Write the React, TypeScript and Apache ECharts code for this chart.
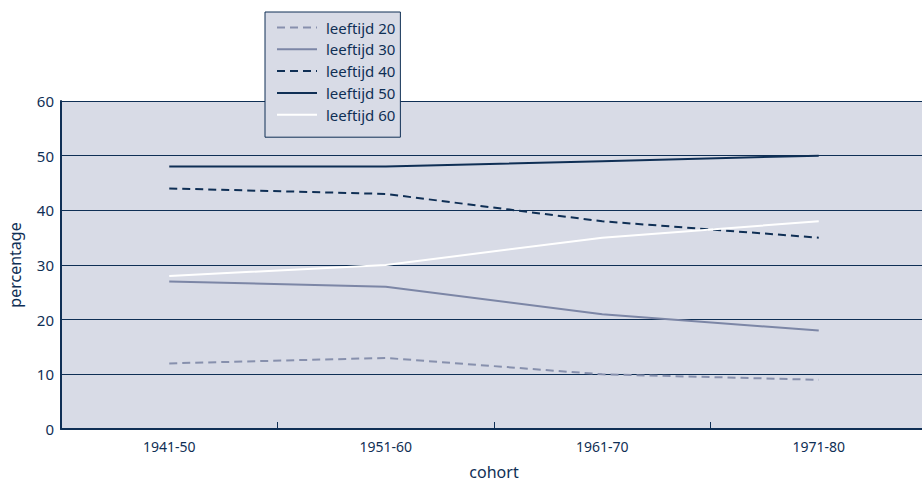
import React, { useEffect, useRef } from "react";
import * as echarts from "echarts";

const categories = ["1941-50", "1951-60", "1961-70", "1971-80"];
const seriesNames = ["leeftijd 20", "leeftijd 30", "leeftijd 40", "leeftijd 50", "leeftijd 60"];
const age20 = [12, 13, 10, 9];
const age30 = [27, 26, 21, 18];
const age40 = [44, 43, 38, 35];
const age50 = [48, 48, 49, 50];
const age60 = [28, 30, 35, 38];
const yTicks = [0, 10, 20, 30, 40, 50, 60];

const NAVY = "#0f2f55";
const FONT = "'Noto Sans', sans-serif";

export default function App() {
  const ref = useRef<HTMLDivElement>(null);
  useEffect(() => {
    if (!ref.current) return;
    const chart = echarts.init(ref.current, null, { renderer: "svg" });
    const values = [age20, age30, age40, age50, age60];
    const styles = [
      { color: "#8790ad", type: [8, 5] as any },
      { color: "#7c86a6", type: "solid" },
      { color: NAVY, type: [8, 5] as any },
      { color: NAVY, type: "solid" },
      { color: "#ffffff", type: "solid" },
    ];
    chart.setOption({
      animation: false,
      textStyle: { fontFamily: FONT },
      grid: {
        left: 61,
        top: 101,
        bottom: 53,
        width: 866,
        show: true,
        backgroundColor: "#d8dbe6",
        borderWidth: 0,
        containLabel: false,
        outerBoundsMode: "none",
      },
      legend: {
        orient: "vertical",
        left: 265,
        top: 12,
        z: 10,
        backgroundColor: "#d8dbe6",
        borderColor: NAVY,
        borderWidth: 1,
        padding: [8, 5, 15, 11],
        itemWidth: 40,
        itemHeight: 14,
        itemGap: 6.8,
        data: seriesNames,
        itemStyle: { opacity: 0 },
        textStyle: { color: NAVY, fontSize: 15, fontFamily: FONT, padding: [0, 0, 0, 4] },
      },
      xAxis: {
        type: "category",
        data: categories,
        boundaryGap: true,
        name: "cohort",
        nameLocation: "middle",
        nameGap: 35,
        nameTextStyle: { color: NAVY, fontSize: 16, lineHeight: 16, fontFamily: FONT },
        axisLine: { lineStyle: { color: NAVY, width: 2 } },
        axisTick: { show: true, inside: true, length: 7, lineStyle: { color: NAVY, width: 1 } },
        axisLabel: { color: NAVY, fontSize: 14, margin: 10, fontFamily: FONT },
        splitLine: { show: false },
      },
      yAxis: {
        type: "value",
        min: yTicks[0],
        max: yTicks[yTicks.length - 1],
        interval: 10,
        name: "percentage",
        nameLocation: "middle",
        nameGap: 38,
        nameTextStyle: { color: NAVY, fontSize: 16, fontFamily: FONT },
        axisLine: { show: true, lineStyle: { color: NAVY, width: 2 } },
        axisTick: { show: false },
        axisLabel: { color: NAVY, fontSize: 15, margin: 7, fontFamily: FONT },
        splitLine: { show: true, lineStyle: { color: NAVY, width: 1 } },
      },
      series: seriesNames.map((name, i) => ({
        name,
        type: "line",
        data: values[i],
        symbol: "none",
        color: styles[i].color,
        lineStyle: { color: styles[i].color, width: 2, type: styles[i].type },
        z: 3,
      })),
    });
    return () => chart.dispose();
  }, []);
  return (
    <div style={{ position: "absolute", left: 0, top: 0, width: 922, height: 482, overflow: "hidden" }}>
      <div ref={ref} style={{ width: 922, height: 482 }} />
    </div>
  );
}
